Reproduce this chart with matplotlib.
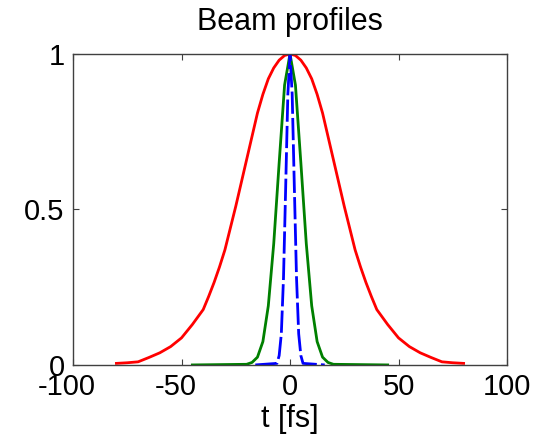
import numpy as np
import matplotlib
matplotlib.use("Agg")
import matplotlib.pyplot as plt
import matplotlib.transforms as mtransforms

# values
t_red = [-80, -75, -70, -65, -60, -55, -50, -45, -40, -37.5, -35, -32.5, -30, -27.5, -25, -22.5,
         -20, -17.5, -15, -12.5, -10, -7.5, -5, -2.5, 0,
         2.5, 5, 7.5, 10, 12.5, 15, 17.5, 20,
         22.5, 25, 27.5, 30, 32.5, 35, 37.5, 40, 45, 50, 55, 60, 65, 70, 75, 80]
v_red = [0.005, 0.007, 0.01, 0.024, 0.039, 0.059, 0.087, 0.13, 0.178, 0.22, 0.265, 0.315, 0.37, 0.44, 0.51, 0.585,
         0.66, 0.735, 0.81, 0.87, 0.92, 0.955, 0.98, 0.995, 1.0,
         0.995, 0.98, 0.955, 0.92, 0.87, 0.81, 0.735, 0.66,
         0.585, 0.51, 0.44, 0.37, 0.315, 0.265, 0.22, 0.178, 0.13, 0.087, 0.059, 0.039, 0.024, 0.01, 0.007, 0.005]

t_green = [-45, -20, -17.5, -15, -12.5, -10, -7.5, -5, -2.5, 0,
           2.5, 5, 7.5, 10, 12.5, 15, 17.5, 20, 45]
v_green = [0, 0.002, 0.008, 0.025, 0.075, 0.19, 0.39, 0.65, 0.9, 1.0,
           0.9, 0.65, 0.39, 0.19, 0.075, 0.025, 0.008, 0.002, 0]

t_blue = [-16, -6, -5, -4, -3, -2, -1, 0, 1, 2, 3, 4, 5, 6, 16]
v_blue = [0, 0.005, 0.03, 0.1, 0.28, 0.57, 0.87, 1.0, 0.87, 0.57, 0.28, 0.1, 0.03, 0.005, 0]

xticks = [-100, -50, 0, 50, 100]
yticks = [0, 0.5, 1]
xticklabels = ['-100', '-50', '0', '50', '100']
yticklabels = ['0', '0.5', '1']

plt.rcParams['font.family'] = ['Liberation Sans', 'DejaVu Sans']
plt.rcParams['axes.unicode_minus'] = False

fig = plt.figure(figsize=(5.49, 4.36), dpi=100)
ax = fig.add_axes([0.133, 0.163, 0.7905, 0.7133])

ax.plot(t_red, v_red, color=(1, 0, 0), lw=2)
ax.plot(t_green, v_green, color=(0, 0.5, 0), lw=2)
ax.plot(t_blue, v_blue, color=(0, 0, 1), lw=2, linestyle=(0, (8, 1.5)))

ax.set_xlim(-100, 100)
ax.set_ylim(0, 1)
ax.set_xticks(xticks)
ax.set_yticks(yticks)
ax.set_xticklabels(xticklabels)
ax.set_yticklabels(yticklabels)
ax.tick_params(direction='in', length=4, width=0.8, color='#404040',
               top=True, right=True, labelsize=21, pad=6)
for s in ax.spines.values():
    s.set_color('#404040')
    s.set_linewidth(1)

# matlab centres the digits, the minus hangs to the left
for lab in ax.get_xticklabels():
    if lab.get_text().startswith('-'):
        lab.set_transform(lab.get_transform() +
                          mtransforms.ScaledTranslation(-6 / 100, 0, fig.dpi_scale_trans))

ax.set_title('Beam profiles', fontsize=22, pad=17)
ax.set_xlabel('t [fs]', fontsize=22, labelpad=2)

fig.savefig('out.png', dpi=100)
